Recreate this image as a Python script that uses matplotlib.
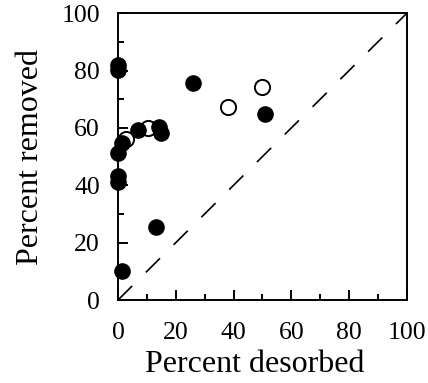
import numpy as np
import matplotlib.pyplot as plt
from matplotlib.ticker import MultipleLocator

plt.rcParams['font.family'] = ['Liberation Serif', 'DejaVu Serif']

# filled circles
filled_x = [0, 0, 25.9, 50.8, 14.3, 14.9, 6.8, 1.3, 0, 0, 0, 13.2, 1.3]
filled_y = [81.8, 80.2, 75.8, 64.7, 60.4, 58.3, 59.2, 54.6, 51.4, 43.2, 41.3, 25.5, 10.2]
# open circles
open_x = [49.9, 38.1, 10.3, 2.8]
open_y = [74.3, 67.4, 59.8, 56.1]

fig = plt.figure(figsize=(4.28, 3.83), dpi=100)
ax = fig.add_axes([0.2757, 0.2167, 0.675, 0.749])

ax.plot([0, 100], [0, 100], 'k', ls=(0, (12, 11.5)), lw=1.2, zorder=1)
ax.scatter(open_x, open_y, s=120, facecolors='white', edgecolors='black', linewidths=1.4, zorder=2)
ax.scatter(filled_x, filled_y, s=120, c='black', edgecolors='black', zorder=3, clip_on=False)

ax.set_xlim(0, 100)
ax.set_ylim(0, 100)
ax.xaxis.set_major_locator(MultipleLocator(20))
ax.yaxis.set_major_locator(MultipleLocator(20))
ax.xaxis.set_minor_locator(MultipleLocator(10))
ax.yaxis.set_minor_locator(MultipleLocator(10))
ax.tick_params(which='both', direction='in', top=False, right=False, labelsize=18.5, width=1.4)
ax.tick_params(axis='x', which='both', pad=16)
ax.tick_params(axis='y', which='both', pad=13)
ax.tick_params(which='major', length=7)
ax.tick_params(which='minor', length=4)
for sp in ax.spines.values():
    sp.set_linewidth(1.4)

ax.set_xlabel('Percent desorbed', fontsize=23, labelpad=5)
ax.set_ylabel('Percent removed', fontsize=23, labelpad=12)
ax.xaxis.set_label_coords(0.475, -0.175)

fig.savefig('out.png', dpi=100)
